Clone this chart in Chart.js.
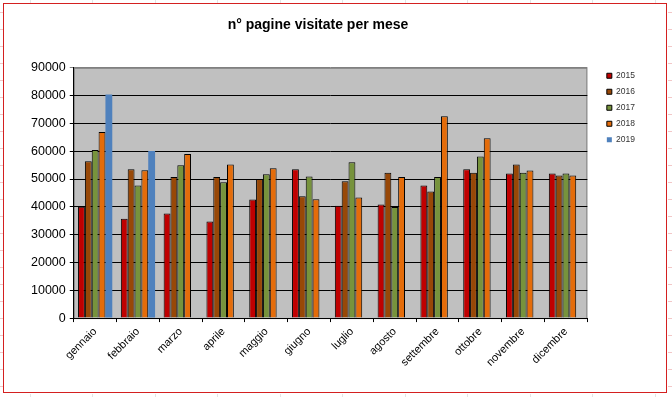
<!DOCTYPE html>
<html>
<head>
<meta charset="utf-8">
<script src="https://cdn.jsdelivr.net/npm/chart.js@4/dist/chart.umd.min.js"></script>
<style>
  html, body { margin: 0; padding: 0; background: #fff; }
  #wrap { width: 672px; height: 397px; }
</style>
</head>
<body>
<div id="wrap"><canvas id="bar-chart" width="672" height="397"></canvas></div>
<script>
// months shown on the x axis
var mesi = ['gennaio', 'febbraio', 'marzo', 'aprile', 'maggio', 'giugno',
            'luglio', 'agosto', 'settembre', 'ottobre', 'novembre', 'dicembre']

// page views per month, one array per year
var anno2015 = [40000, 35700, 37600, 34700, 42600, 53500, 40400, 40800, 47700, 53500, 52000, 52000]
var anno2016 = [56400, 53500, 50700, 50700, 50000, 43800, 49200, 52300, 45500, 52300, 55200, 51300]
var anno2017 = [60400, 47700, 55000, 48800, 51700, 50900, 56000, 39900, 50700, 58100, 52300, 52000]
var anno2018 = [66900, 53200, 59000, 55200, 53900, 42700, 43400, 50700, 72600, 64700, 53100, 51300]
var anno2019 = [80400, 60100, null, null, null, null, null, null, null, null, null, null]

var yTicks = [0, 10000, 20000, 30000, 40000, 50000, 60000, 70000, 80000, 90000]

var fontFamily = 'Arial, "Liberation Sans", sans-serif'

// gray plot background, frame and the red sheet border
var sfondo = {
    id: 'sfondo',
    afterLayout: function(chart) {
        // legend sits a bit right of the plot and lower, title slightly left
        if (chart.legend) {
            chart.legend.left += 12
            chart.legend.right += 12
            chart.legend.top = 64
        }
        if (chart.titleBlock) {
            chart.titleBlock.left -= 12
            chart.titleBlock.right -= 12
        }
    },
    beforeDraw: function(chart) {
        var ctx = chart.ctx
        var a = chart.chartArea
        ctx.save()
        ctx.fillStyle = '#ffffff'
        ctx.fillRect(0, 0, chart.width, chart.height)
        // faint sheet gridlines outside the chart object
        ctx.strokeStyle = '#e4e4e4'
        ctx.lineWidth = 1
        var cols = [30, 92, 155, 217, 280, 342, 405, 467, 530, 592, 655]
        for (var i = 0; i < cols.length; i++) {
            ctx.beginPath(); ctx.moveTo(cols[i] + 0.5, 0); ctx.lineTo(cols[i] + 0.5, 3); ctx.stroke()
            ctx.beginPath(); ctx.moveTo(cols[i] + 0.5, 394); ctx.lineTo(cols[i] + 0.5, 397); ctx.stroke()
        }
        ctx.strokeStyle = '#f2c8c8'
        for (var y = 12; y < 397; y += 17) {
            ctx.beginPath(); ctx.moveTo(0, y + 0.5); ctx.lineTo(3, y + 0.5); ctx.stroke()
            ctx.beginPath(); ctx.moveTo(668, y + 0.5); ctx.lineTo(672, y + 0.5); ctx.stroke()
        }
        ctx.strokeStyle = '#d42020'
        ctx.strokeRect(3.5, 3.5, 663, 389)
        ctx.fillStyle = '#c0c0c0'
        ctx.fillRect(a.left, a.top, a.right - a.left, a.bottom - a.top)
        ctx.strokeStyle = '#808080'
        ctx.strokeRect(a.left + 0.5, a.top + 0.5, a.right - a.left - 1, a.bottom - a.top)
        ctx.restore()
    }
}

new Chart(document.getElementById('bar-chart'), {
    type: 'bar',
    data: {
        labels: mesi,
        datasets: [
            { label: '2015', data: anno2015, backgroundColor: '#c00000', borderColor: '#000000', borderWidth: 1 },
            { label: '2016', data: anno2016, backgroundColor: '#984807', borderColor: '#000000', borderWidth: 1 },
            { label: '2017', data: anno2017, backgroundColor: '#77933c', borderColor: '#000000', borderWidth: 1 },
            { label: '2018', data: anno2018, backgroundColor: '#e46c0a', borderColor: '#000000', borderWidth: 1 },
            { label: '2019', data: anno2019, backgroundColor: '#4f81bd', borderColor: '#4f81bd', borderWidth: 0 }
        ]
    },
    options: {
        responsive: false,
        animation: false,
        layout: { padding: { left: 27, top: 8, right: 39, bottom: 25 } },
        datasets: { bar: { barPercentage: 1, categoryPercentage: 0.8 } },
        plugins: {
            title: {
                display: true,
                text: 'n° pagine visitate per mese',
                color: '#000000',
                font: { family: fontFamily, size: 14, weight: 'bold' },
                padding: { top: 9, bottom: 34 }
            },
            legend: {
                position: 'right',
                align: 'start',
                labels: {
                    boxWidth: 5,
                    boxHeight: 5,
                    padding: 7.5,
                    color: '#333333',
                    font: { family: fontFamily, size: 8.5 }
                }
            },
            tooltip: { enabled: false }
        },
        scales: {
            x: {
                grid: { offset: true, drawOnChartArea: false, color: '#000000', tickLength: 4 },
                border: { color: '#000000' },
                ticks: {
                    color: '#000000',
                    maxRotation: 45,
                    minRotation: 45,
                    font: { family: fontFamily, size: 11 }
                }
            },
            y: {
                min: 0,
                max: 90000,
                afterBuildTicks: function(axis) {
                    axis.ticks = yTicks.map(function(v) { return { value: v } })
                },
                grid: {
                    color: function(c) { return c.tick && c.tick.value === 90000 ? '#808080' : '#000000' },
                    tickLength: 4
                },
                border: { color: '#000000' },
                ticks: {
                    color: '#000000',
                    padding: 4,
                    font: { family: fontFamily, size: 12.5 },
                    callback: function(v) { return String(v) }
                }
            }
        }
    },
    plugins: [sfondo]
});
</script>
</body>
</html>
